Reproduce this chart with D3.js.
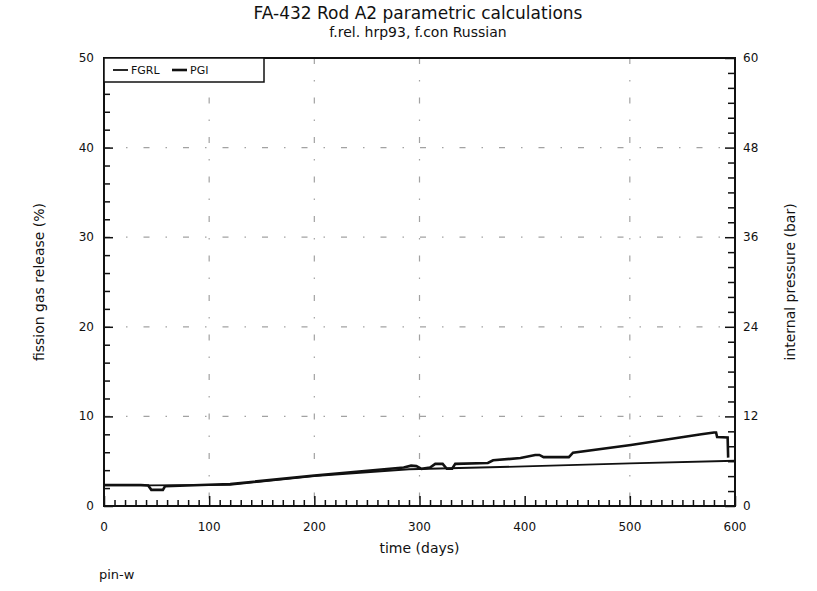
<!DOCTYPE html>
<html>
<head>
<meta charset="utf-8">
<script src="https://cdn.jsdelivr.net/npm/d3@7"></script>
<style>
  body { margin: 0; background: #fff; }
  svg { display: block; }
  text { font-family: "DejaVu Sans", sans-serif; fill: #111; }
</style>
</head>
<body>
<svg id="chart" width="817" height="591"></svg>
<script>
// Time axis (days)
const xTicks = [0, 100, 200, 300, 400, 500, 600];
// Left axis: fission gas release (%)
const leftTicks = [0, 10, 20, 30, 40, 50];
// Right axis: internal pressure (bar)
const rightTicks = [0, 12, 24, 36, 48, 60];

// FGRL series: days and fission gas release (%)
const fgrlDays = [0, 40, 120, 200, 290, 400, 500, 600];
const fgrlValues = [2.3, 2.3, 2.35, 3.35, 4.1, 4.42, 4.76, 5.05];

// PGI series: days and internal pressure (bar)
const pgiDays = [0, 35, 42, 45, 56, 58, 120, 200, 285, 292, 297, 302, 310, 315, 322, 326, 331, 334, 365, 370,
  396, 410, 414, 418, 442, 446, 501, 568, 580, 582, 583, 593, 593.5];
const pgiValues = [2.82, 2.82, 2.76, 2.16, 2.16, 2.64, 2.94, 4.08, 5.16, 5.4, 5.34, 4.98, 5.16, 5.64, 5.64, 4.98, 4.98, 5.64, 5.76, 6.12,
  6.42, 6.84, 6.84, 6.54, 6.54, 7.14, 8.16, 9.6, 9.84, 9.84, 9.24, 9.18, 6.48];

const svg = d3.select("#chart");
const L = 104, R = 735, T = 58, B = 506;

const x = d3.scaleLinear().domain([0, 600]).range([L, R]);
const yL = d3.scaleLinear().domain([0, 50]).range([B, T]);
const yR = d3.scaleLinear().domain([0, 60]).range([B, T]);

// sparse, faint dash-dot grid
const grid = svg.append("g").attr("stroke", "#333").attr("stroke-width", 1.2)
  .attr("stroke-dasharray", "6,16,1.5,16").attr("opacity", 0.45);
[10, 20, 30, 40].forEach(v => {
  grid.append("line").attr("x1", L).attr("x2", R).attr("y1", yL(v)).attr("y2", yL(v));
});
[100, 200, 300, 500].forEach(d => {
  grid.append("line").attr("x1", x(d)).attr("x2", x(d)).attr("y1", T).attr("y2", B);
});

// inward-pointing axes
const axL = d3.axisRight(yL).tickValues(d3.range(0, 51, 2)).tickSize(6).tickFormat("");
const axR = d3.axisLeft(yR).tickValues(d3.range(0, 61, 2)).tickSize(7).tickFormat("");
const axB = d3.axisTop(x).tickValues(d3.range(0, 601, 10)).tickSize(6).tickFormat("");

const gL = svg.append("g").attr("transform", `translate(${L},0)`).call(axL);
const gR = svg.append("g").attr("transform", `translate(${R},0)`).call(axR);
const gB = svg.append("g").attr("transform", `translate(0,${B})`).call(axB);
[gL, gR, gB].forEach(g => {
  g.select(".domain").remove();
  g.selectAll(".tick line").attr("stroke", "#111").attr("stroke-width", 1.5);
});
gB.selectAll(".tick line").filter(d => d % 100 === 0).attr("y2", -10);
gL.selectAll(".tick line").filter(d => d % 10 === 0).attr("x2", 9);
gR.selectAll(".tick line").filter(d => d % 12 === 0).attr("x2", -10);

// frame
svg.append("rect").attr("x", L).attr("y", T).attr("width", R - L).attr("height", B - T)
  .attr("fill", "none").attr("stroke", "#111").attr("stroke-width", 2);

// tick labels
svg.append("g").selectAll("text").data(leftTicks).join("text")
  .attr("x", L - 10).attr("y", d => yL(d) + 4).attr("text-anchor", "end")
  .attr("font-size", 12).text(d => d);
svg.append("g").selectAll("text").data(rightTicks).join("text")
  .attr("x", R + 8).attr("y", d => yR(d) + 4).attr("text-anchor", "start")
  .attr("font-size", 12).text(d => d);
svg.append("g").selectAll("text").data(xTicks).join("text")
  .attr("x", d => x(d)).attr("y", B + 25).attr("text-anchor", "middle")
  .attr("font-size", 12).text(d => d);

// axis titles
svg.append("text").attr("x", (L + R) / 2).attr("y", 553).attr("text-anchor", "middle")
  .attr("font-size", 14).text("time (days)");
svg.append("text").attr("transform", `translate(44,${(T + B) / 2}) rotate(-90)`)
  .attr("text-anchor", "middle").attr("font-size", 14).text("fission gas release (%)");
svg.append("text").attr("transform", `translate(795,${(T + B) / 2}) rotate(-90)`)
  .attr("text-anchor", "middle").attr("font-size", 14).text("internal pressure (bar)");

// title
svg.append("text").attr("x", 418).attr("y", 19).attr("text-anchor", "middle")
  .attr("font-size", 17).text("FA-432 Rod A2 parametric calculations");
svg.append("text").attr("x", 418).attr("y", 37).attr("text-anchor", "middle")
  .attr("font-size", 14).text("f.rel. hrp93, f.con Russian");

svg.append("text").attr("x", 99).attr("y", 579).attr("font-size", 13).text("pin-w");

// series
const fgrl = fgrlDays.map((d, i) => [d, fgrlValues[i]]);
const pgi = pgiDays.map((d, i) => [d, pgiValues[i]]);
svg.append("path").datum(fgrl)
  .attr("d", d3.line().x(d => x(d[0])).y(d => yL(d[1])))
  .attr("fill", "none").attr("stroke", "#111").attr("stroke-width", 1.8);
svg.append("path").datum(pgi)
  .attr("d", d3.line().x(d => x(d[0])).y(d => yR(d[1])))
  .attr("fill", "none").attr("stroke", "#111").attr("stroke-width", 2.6);

// legend
const lg = svg.append("g");
lg.append("rect").attr("x", L).attr("y", T).attr("width", 160).attr("height", 24)
  .attr("fill", "#fff").attr("stroke", "#111").attr("stroke-width", 1.5);
const items = [{ name: "FGRL", w: 1.8, x0: 113 }, { name: "PGI", w: 2.6, x0: 172 }];
items.forEach(it => {
  lg.append("line").attr("x1", it.x0).attr("x2", it.x0 + 15).attr("y1", 70).attr("y2", 70)
    .attr("stroke", "#111").attr("stroke-width", it.w);
  lg.append("text").attr("x", it.x0 + 18).attr("y", 74).attr("font-size", 11).text(it.name);
});
</script>
</body>
</html>
